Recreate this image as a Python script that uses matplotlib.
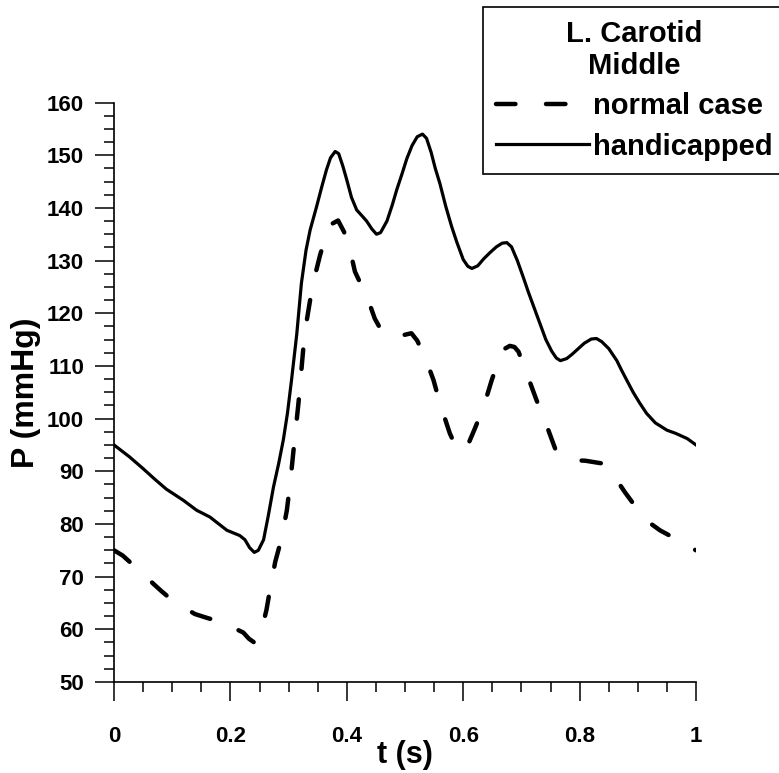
import matplotlib
matplotlib.use("Agg")
import matplotlib.pyplot as plt
from matplotlib.font_manager import FontProperties
from matplotlib.ticker import MultipleLocator, FixedLocator, FixedFormatter

plt.rcParams['font.family'] = ['Liberation Sans', 'DejaVu Sans']
plt.rcParams['font.weight'] = 'bold'
plt.rcParams['lines.scale_dashes'] = False

# Pressure waveforms over one cardiac cycle
t_handicapped = [0.000, 0.027, 0.050, 0.070, 0.090, 0.119, 0.142, 0.165, 0.180, 0.194,
                 0.216, 0.225, 0.233, 0.241, 0.248, 0.257, 0.265, 0.274, 0.283, 0.291,
                 0.298, 0.305, 0.314, 0.322, 0.330, 0.337, 0.348, 0.357, 0.365, 0.372,
                 0.380, 0.386, 0.393, 0.400, 0.408, 0.417, 0.426, 0.434, 0.443, 0.451,
                 0.458, 0.469, 0.478, 0.486, 0.495, 0.503, 0.512, 0.521, 0.530, 0.537,
                 0.545, 0.552, 0.560, 0.570, 0.580, 0.589, 0.600, 0.608, 0.615, 0.625,
                 0.635, 0.646, 0.657, 0.667, 0.675, 0.683, 0.693, 0.703, 0.712, 0.722,
                 0.732, 0.742, 0.752, 0.760, 0.767, 0.778, 0.787, 0.795, 0.808, 0.820,
                 0.829, 0.838, 0.850, 0.864, 0.872, 0.881, 0.892, 0.903, 0.915, 0.930,
                 0.950, 0.965, 0.973, 0.985, 1.000]
p_handicapped = [95.0, 92.7, 90.5, 88.5, 86.6, 84.5, 82.6, 81.3, 80.0, 78.8,
                 77.8, 77.0, 75.5, 74.6, 75.0, 77.0, 81.5, 87.0, 91.5, 96.0,
                 101.0, 107.3, 116.0, 125.7, 132.0, 135.8, 140.2, 144.0, 147.2, 149.5,
                 150.7, 150.3, 148.0, 145.3, 142.0, 139.6, 138.5, 137.5, 136.0, 135.0,
                 135.3, 137.5, 140.5, 143.5, 146.5, 149.3, 151.8, 153.5, 154.0, 153.2,
                 150.5, 147.5, 144.6, 140.3, 136.5, 133.5, 130.2, 128.9, 128.5, 129.0,
                 130.3, 131.5, 132.6, 133.3, 133.4, 132.6, 130.0, 126.9, 124.0, 121.0,
                 118.0, 115.0, 112.8, 111.5, 111.0, 111.4, 112.2, 113.0, 114.3, 115.1,
                 115.2, 114.6, 113.3, 111.0, 109.2, 107.3, 105.0, 103.0, 101.0, 99.2,
                 97.8, 97.2, 96.8, 96.2, 95.0]

t_normal = [0.000, 0.015, 0.030, 0.050, 0.068, 0.082, 0.096, 0.118, 0.139, 0.156,
            0.174, 0.190, 0.205, 0.222, 0.232, 0.241, 0.248, 0.255, 0.262, 0.268,
            0.277, 0.288, 0.297, 0.303, 0.308, 0.317, 0.325, 0.331, 0.337, 0.345,
            0.354, 0.365, 0.375, 0.385, 0.395, 0.403, 0.414, 0.422, 0.431, 0.440,
            0.448, 0.458, 0.469, 0.480, 0.492, 0.503, 0.511, 0.521, 0.531, 0.540,
            0.549, 0.560, 0.577, 0.588, 0.600, 0.610, 0.620, 0.635, 0.649, 0.663,
            0.672, 0.680, 0.688, 0.695, 0.709, 0.726, 0.741, 0.758, 0.775, 0.789,
            0.810, 0.838, 0.850, 0.864, 0.878, 0.892, 0.905, 0.918, 0.938, 0.958,
            0.975, 0.993, 1.000]
p_normal = [75.0, 74.0, 72.5, 70.5, 68.6, 67.2, 65.9, 64.3, 62.9, 62.3,
            61.7, 61.0, 60.3, 59.4, 58.2, 57.5, 58.0, 60.5, 63.7, 67.5,
            72.8, 77.3, 82.6, 88.0, 93.5, 103.0, 113.0, 118.5, 122.5, 127.0,
            131.0, 135.1, 137.0, 137.6, 135.5, 133.2, 127.9, 126.0, 124.1, 121.5,
            119.0, 117.0, 115.8, 115.8, 115.7, 116.0, 116.2, 114.8, 112.4, 110.0,
            107.3, 102.9, 97.2, 94.5, 93.8, 95.5, 98.1, 102.2, 107.3, 111.7,
            113.3, 113.8, 113.6, 112.7, 108.6, 103.5, 99.4, 94.3, 92.6, 92.1,
            92.0, 91.5, 90.2, 88.3, 86.0, 83.9, 82.0, 80.4, 78.8, 77.6,
            76.8, 75.4, 75.0]

x_ticks = [0, 0.2, 0.4, 0.6, 0.8, 1.0]
x_tick_labels = ["0", "0.2", "0.4", "0.6", "0.8", "1"]
y_ticks = list(range(50, 161, 10))

legend_title = "L. Carotid\nMiddle"
label_normal = "normal case"
label_handicapped = "handicapped"

fig = plt.figure(figsize=(7.79, 7.73), dpi=100)
ax = fig.add_axes([114 / 779, 91 / 773, 582 / 779, 579.5 / 773])

ln_normal, = ax.plot(t_normal, p_normal, color='black', lw=3.2,
                     linestyle=(0, (14, 22)), dash_capstyle='round',
                     solid_joinstyle='round', label=label_normal)
ln_hand, = ax.plot(t_handicapped, p_handicapped, color='black', lw=2.3,
                   solid_joinstyle='round', label=label_handicapped)

ax.set_xlim(0, 1)
ax.set_ylim(50, 160)
ax.xaxis.set_major_locator(FixedLocator(x_ticks))
ax.xaxis.set_major_formatter(FixedFormatter(x_tick_labels))
ax.xaxis.set_minor_locator(MultipleLocator(0.05))
ax.yaxis.set_major_locator(FixedLocator(y_ticks))
ax.yaxis.set_minor_locator(MultipleLocator(2.5))

for side in ('top', 'right'):
    ax.spines[side].set_visible(False)
for side in ('left', 'bottom'):
    ax.spines[side].set_linewidth(1.2)

ax.tick_params(which='major', direction='out', length=13.5, width=1.1,
               labelsize=16, colors='black')
ax.tick_params(which='minor', direction='out', length=7, width=1.1)
ax.tick_params(axis='x', which='major', pad=18)
ax.tick_params(axis='y', which='major', pad=8)
for lab in ax.get_xticklabels() + ax.get_yticklabels():
    lab.set_fontweight('bold')

ax.set_xlabel("t (s)", fontsize=22, fontweight='bold', labelpad=-5)
ax.set_ylabel("P (mmHg)", fontsize=23, fontweight='bold', labelpad=4)

fp = FontProperties(family='Liberation Sans', weight='bold', size=21)
leg = fig.legend(handles=[ln_normal, ln_hand], title=legend_title,
                 loc='upper left', bbox_to_anchor=(483 / 779, 1 - 7 / 773),
                 bbox_transform=fig.transFigure, prop=fp, title_fontproperties=fp,
                 frameon=True, fancybox=False, edgecolor='black', framealpha=1,
                 borderpad=0.45, borderaxespad=0, handlelength=3.2,
                 handletextpad=0.12, labelspacing=0.42)
leg.get_frame().set_linewidth(1.2)
leg.get_title().set_multialignment('center')
leg.get_title().set_linespacing(1.18)

fig.savefig("out.png", dpi=100)
